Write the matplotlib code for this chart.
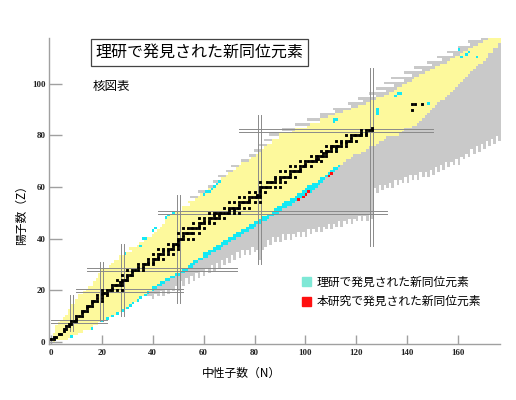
import numpy as np
import matplotlib
matplotlib.use("Agg")
import matplotlib.pyplot as plt
from matplotlib.colors import ListedColormap
from matplotlib.patches import Patch

plt.rcParams['font.family'] = ['Noto Sans CJK JP', 'DejaVu Sans']

#%% data
# known nuclides : lightest / heaviest N for each Z (Z = 0 ... 118)
n_lo = [1, 0, 1, 1, 2, 2, 2, 3, 4, 5,
        6, 7, 7, 8, 8, 10, 10, 11, 11, 13,
        14, 15, 17, 17, 18, 19, 19, 20, 20, 23,
        24, 25, 27, 27, 30, 32, 31, 34, 35, 37,
        38, 40, 41, 42, 43, 44, 45, 45, 46, 47,
        49, 52, 52, 55, 54, 57, 58, 59, 61, 62,
        64, 65, 66, 67, 69, 70, 72, 73, 74, 75,
        78, 79, 81, 82, 83, 84, 85, 87, 87, 90,
        90, 95, 96, 101, 102, 106, 106, 109, 112, 115,
        118, 121, 124, 126, 128, 131, 133, 135, 136, 138,
        140, 142, 143, 145, 147, 149, 151, 153, 156, 157,
        159, 161, 162, 164, 166, 168, 170, 172, 174]
n_hi = [1, 6, 8, 10, 12, 16, 16, 18, 20, 22,
        24, 26, 28, 30, 31, 32, 34, 35, 37, 38,
        40, 41, 43, 44, 46, 48, 50, 52, 53, 55,
        56, 57, 59, 61, 62, 64, 66, 67, 69, 70,
        72, 74, 75, 77, 79, 80, 82, 84, 85, 87,
        89, 90, 92, 94, 95, 97, 99, 100, 102, 103,
        104, 105, 106, 107, 109, 110, 111, 112, 113, 114,
        115, 117, 118, 121, 123, 124, 127, 128, 130, 131,
        136, 137, 138, 141, 143, 144, 145, 146, 147, 148,
        149, 150, 151, 152, 154, 155, 156, 157, 158, 159,
        160, 161, 162, 163, 164, 165, 166, 167, 169, 170,
        171, 171, 173, 173, 175, 175, 176, 176, 176]

# RIKEN cells on the neutron-rich edge (count per Z)
riken_edge = [0, 0, 1, 0, 0, 1, 0, 0, 1, 1,
              1, 1, 1, 1, 1, 1, 1, 1, 1, 1,
              1, 2, 2, 2, 2, 2, 2, 2, 2, 2,
              2, 2, 2, 2, 3, 3, 3, 3, 3, 3,
              3, 3, 3, 3, 3, 3, 3, 3, 3, 3,
              3, 3, 4, 4, 4, 4, 4, 4, 4, 4,
              4, 3, 2, 2, 2, 2, 2, 2, 1] + [0] * 50

# predicted proton-rich nuclides (grey), first N for Z = 56 ... 118
p_lo = [55, 59, 58, 62,
        62, 65, 64, 67, 66, 70, 69, 73, 71, 75,
        75, 79, 78, 82, 80, 84, 82, 87, 84, 90,
        86, 95, 91, 101, 96, 106, 101, 106, 106, 112,
        111, 118, 117, 123, 121, 128, 125, 132, 128, 135,
        131, 139, 134, 142, 139, 146, 143, 150, 148, 154,
        152, 158, 156, 161, 160, 165, 164, 169, 167]

# predicted neutron-rich nuclides (grey), lowest Z for N = 38 ... 176
gray_zmin = [18, 18, 17, 19, 18, 20, 18, 21, 19, 21,
             20, 22, 20, 24, 22, 25, 23, 26, 24, 27,
             25, 28, 26, 29, 27, 30, 28, 31, 29, 32,
             30, 33, 31, 34, 32, 35, 33, 36, 34, 36,
             34, 37, 35, 36, 32, 36, 37, 40, 38, 41,
             39, 41, 39, 42, 40, 42, 40, 42, 41, 43,
             41, 43, 41, 44, 42, 44, 43, 45, 43, 45,
             44, 46, 44, 46, 45, 47, 45, 47, 46, 48,
             46, 48, 47, 49, 47, 49, 47, 50, 48,
             60, 58, 61, 59, 61, 60, 62, 60, 63, 61,
             63, 62, 64, 62, 65, 63, 65, 63, 66, 64,
             66, 64, 67, 65, 68, 66, 69, 67, 70, 68,
             70, 69, 71, 69, 72, 71, 73, 72, 75, 73,
             76, 74, 77, 75, 78, 76, 79, 77, 80, 78]

# other RIKEN discoveries (N, Z)
riken_n = [29, 35, 36, 37, 40, 41, 45, 46, 48, 60, 61, 62, 63, 64, 65, 66,
           111, 111, 112, 128, 128, 128, 135, 136, 137, 148, 112, 112,
           161, 163, 164, 167, 160]
riken_z = [34, 37, 40, 40, 43, 44, 48, 49, 50, 57, 58, 58, 59, 60, 61, 62,
           85, 86, 86, 88, 89, 90, 95, 96, 96, 92, 74, 75,
           110, 111, 112, 110, 113]

# this work
new_n = [97, 99, 100, 101, 109, 110]
new_z = [55, 56, 57, 58, 64, 65]

# stable nuclides
stable_z = [1, 1, 2, 2, 3, 3, 4, 5, 5, 6, 6, 7, 7, 8, 8, 8, 9, 10, 10, 10,
            11, 12, 12, 12, 13, 14, 14, 14, 15, 16, 16, 16, 16, 17, 17,
            18, 18, 18, 19, 19, 19, 20, 20, 20, 20, 20, 20, 21,
            22, 22, 22, 22, 22, 23, 23, 24, 24, 24, 24, 25, 26, 26, 26, 26, 27,
            28, 28, 28, 28, 28, 29, 29, 30, 30, 30, 30, 30, 31, 31,
            32, 32, 32, 32, 32, 33, 34, 34, 34, 34, 34, 34, 35, 35,
            36, 36, 36, 36, 36, 36, 37, 37, 38, 38, 38, 38, 39,
            40, 40, 40, 40, 40, 41, 42, 42, 42, 42, 42, 42, 42,
            44, 44, 44, 44, 44, 44, 44, 45, 46, 46, 46, 46, 46, 46, 47, 47,
            48, 48, 48, 48, 48, 48, 48, 48, 49, 49,
            50, 50, 50, 50, 50, 50, 50, 50, 50, 50, 51, 51,
            52, 52, 52, 52, 52, 52, 52, 52, 53,
            54, 54, 54, 54, 54, 54, 54, 54, 54, 55,
            56, 56, 56, 56, 56, 56, 56, 57, 57, 58, 58, 58, 58, 59,
            60, 60, 60, 60, 60, 60, 60, 62, 62, 62, 62, 62, 62, 62, 63, 63,
            64, 64, 64, 64, 64, 64, 64, 65, 66, 66, 66, 66, 66, 66, 66, 67,
            68, 68, 68, 68, 68, 68, 69, 70, 70, 70, 70, 70, 70, 70, 71, 71,
            72, 72, 72, 72, 72, 72, 73, 73, 74, 74, 74, 74, 74, 75, 75,
            76, 76, 76, 76, 76, 76, 76, 77, 77, 78, 78, 78, 78, 78, 78, 79,
            80, 80, 80, 80, 80, 80, 80, 81, 81, 82, 82, 82, 82, 83,
            90, 92, 92, 92]
stable_n = [0, 1, 1, 2, 3, 4, 5, 5, 6, 6, 7, 7, 8, 8, 9, 10, 10, 10, 11, 12,
            12, 12, 13, 14, 14, 14, 15, 16, 16, 16, 17, 18, 20, 18, 20,
            18, 20, 22, 20, 21, 22, 20, 22, 23, 24, 26, 28, 24,
            24, 25, 26, 27, 28, 27, 28, 26, 28, 29, 30, 30, 28, 30, 31, 32, 32,
            30, 32, 33, 34, 36, 34, 36, 34, 36, 37, 38, 40, 38, 40,
            38, 40, 41, 42, 44, 42, 40, 42, 43, 44, 46, 48, 44, 46,
            42, 44, 46, 47, 48, 50, 48, 50, 46, 48, 49, 50, 50,
            50, 51, 52, 54, 56, 52, 50, 52, 53, 54, 55, 56, 58,
            52, 54, 55, 56, 57, 58, 60, 58, 56, 58, 59, 60, 62, 64, 60, 62,
            58, 60, 62, 63, 64, 65, 66, 68, 64, 66,
            62, 64, 65, 66, 67, 68, 69, 70, 72, 74, 70, 72,
            68, 70, 71, 72, 73, 74, 76, 78, 74,
            70, 72, 74, 75, 76, 77, 78, 80, 82, 78,
            74, 76, 78, 79, 80, 81, 82, 81, 82, 78, 80, 82, 84, 82,
            82, 83, 84, 85, 86, 88, 90, 82, 85, 86, 87, 88, 90, 92, 88, 90,
            88, 90, 91, 92, 93, 94, 96, 94, 90, 92, 94, 95, 96, 97, 98, 98,
            94, 96, 98, 99, 100, 102, 100, 98, 100, 101, 102, 103, 104, 106, 104, 105,
            102, 104, 105, 106, 107, 108, 107, 108, 106, 108, 109, 110, 112, 110, 112,
            108, 110, 111, 112, 113, 114, 116, 114, 116, 112, 114, 116, 117, 118, 120, 118,
            116, 118, 119, 120, 121, 122, 124, 122, 124, 122, 124, 125, 126, 126,
            142, 142, 143, 146]

# magic numbers : double grey lines
magic_z = [8, 20, 28, 50, 82]
magic_z_span = [(0, 22), (10, 52), (14, 73), (42, 132), (74, 150)]
magic_n = [8, 20, 28, 50, 82, 126]
magic_n_span = [(4, 18), (8, 31), (10, 38), (15, 57), (30, 88), (37, 106)]

#%% build the cell map
Z_MAX, N_MAX = 118, 176
grid = np.zeros((Z_MAX + 1, N_MAX + 1), dtype=int)
for z in range(Z_MAX + 1):
    hi = min(n_hi[z], N_MAX)
    grid[z, n_lo[z]:hi + 1] = 1
    if riken_edge[z]:
        grid[z, hi - riken_edge[z] + 1:hi + 1] = 3
for z, lo in zip(range(56, Z_MAX + 1), p_lo):
    grid[z, lo:n_lo[z]] = 2
for n, zmin in zip(range(38, N_MAX + 1), gray_zmin):
    for z in range(zmin, Z_MAX + 1):
        if n > n_hi[z]:
            grid[z, n] = 2
grid[riken_z, riken_n] = 3
grid[new_z, new_n] = 4

col_yellow = '#fdf99c'
col_gray = '#c9c9c9'
col_cyan = '#14e9f4'
col_red = '#ff1010'
cmap = ListedColormap([col_yellow, col_gray, col_cyan, col_red])

#%% plot
fig = plt.figure(figsize=(5.16, 4.0), dpi=100)
ax = fig.add_axes([0.095, 0.139, 0.874, 0.7665])
ax.imshow(np.ma.masked_equal(grid, 0), cmap=cmap, vmin=0.5, vmax=4.5,
          origin='lower', interpolation='nearest', aspect='auto',
          extent=(-0.5, N_MAX + 0.5, -0.5, Z_MAX + 0.5))

lc = '#8a8a8a'
for z, (a, b) in zip(magic_z, magic_z_span):
    for d in (-0.6, 0.6):
        ax.plot([a, b], [z + d, z + d], color=lc, lw=0.7)
for n, (a, b) in zip(magic_n, magic_n_span):
    for d in (-0.6, 0.6):
        ax.plot([n + d, n + d], [a, b], color=lc, lw=0.7)

# stable nuclides, slightly larger than one cell
ax.scatter(stable_n, stable_z, marker='s', s=4.3, c='black', linewidths=0,
           zorder=4, snap=False)

ax.set_xlim(-0.8, 176.5)
ax.set_ylim(-1.0, 117.8)
for s in ['top', 'right']:
    ax.spines[s].set_visible(False)
for s in ['left', 'bottom']:
    ax.spines[s].set_color('#a0a0a0')
    ax.spines[s].set_linewidth(1.0)
ax.set_xticks(range(0, 161, 20))
ax.set_yticks(range(0, 101, 20))
ax.tick_params(axis='y', direction='in', length=9.5, width=1.0, color='#a0a0a0', pad=2.5)
ax.tick_params(axis='x', direction='in', length=6.5, width=1.0, color='#a0a0a0', pad=3)
for t in ax.get_xticklabels() + ax.get_yticklabels():
    t.set_fontfamily('Liberation Serif')
    t.set_fontweight('bold')
    t.set_fontsize(6.5)
    t.set_color('#222222')

fig.text(0.467, 0.067, '中性子数（N）', ha='center', va='center', fontsize=8.5)
fig.text(0.041, 0.47, '陽子数（Z）', ha='center', va='center', rotation=90, fontsize=8.5)

fig.text(0.387, 0.869, '理研で発見された新同位元素', ha='center', va='center', fontsize=11.5,
         bbox=dict(boxstyle='square,pad=0.3', fc='white', ec='#444444', lw=0.9))
fig.text(0.18, 0.785, '核図表', ha='left', va='center', fontsize=9)

handles = [Patch(color='#7ee8d6'), Patch(color=col_red)]
fig.legend(handles, ['理研で発見された新同位元素', '本研究で発見された新同位元素'],
           loc='upper left', bbox_to_anchor=(0.565, 0.337), frameon=False,
           fontsize=8.5, handlelength=0.75, handleheight=0.75, handletextpad=0.5,
           labelspacing=0.55)

fig.savefig('out.png', dpi=100)
